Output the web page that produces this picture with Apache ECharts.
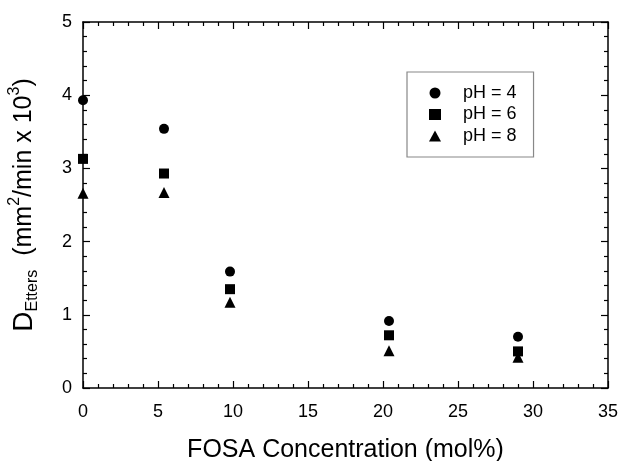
<!DOCTYPE html>
<html><head><meta charset="utf-8">
<script src="https://cdn.jsdelivr.net/npm/echarts@6/dist/echarts.min.js"></script>
<style>html,body{margin:0;padding:0;background:#fff}#c{width:621px;height:461px}</style>
</head><body><div id="c"></div>
<script>
const concentrations = [0, 5.4, 9.8, 20.4, 29.0];
const pH4 = [3.93, 3.54, 1.59, 0.915, 0.70];
const pH6 = [3.13, 2.93, 1.35, 0.72, 0.50];
const pH8 = [2.66, 2.67, 1.17, 0.51, 0.42];
const seriesNames = ['pH = 4', 'pH = 6', 'pH = 8'];
const xTitle = 'FOSA Concentration (mol%)';

const font = 'Liberation Sans, Arial, sans-serif';
const pair = (xs, ys) => xs.map((x, i) => [x, ys[i]]);
const tickStyle = { color: '#000', width: 1.2 };
const axisBase = {
  axisLine: { show: true, onZero: false, lineStyle: { color: '#000', width: 1.5 } },
  axisTick: { show: true, inside: true, length: 7, lineStyle: tickStyle },
  minorTick: { show: true, splitNumber: 5, length: 4, lineStyle: tickStyle },
  splitLine: { show: false },
};
const mk = { color: '#000', opacity: 1 };
const chart = echarts.init(document.getElementById('c'), null, { renderer: 'canvas' });
chart.setOption({
  animation: false,
  backgroundColor: '#fff',
  grid: { left: 83, right: 13, top: 22, bottom: 73, containLabel: false, outerBoundsMode: 'none' },
  legend: {
    orient: 'vertical',
    left: 407, top: 72,
    padding: [12, 17, 12, 22],
    itemGap: 3.5,
    itemWidth: 12, itemHeight: 11,
    borderColor: '#888', borderWidth: 1.2,
    textStyle: { fontFamily: font, fontSize: 18, color: '#000', padding: [0, 0, 0, 17] },
    data: seriesNames
  },
  xAxis: [
    Object.assign({}, axisBase, {
      type: 'value', min: 0, max: 35, interval: 5, position: 'bottom',
      axisLabel: { fontFamily: font, fontSize: 18, color: '#000', margin: 15 },
      name: xTitle, nameLocation: 'middle', nameGap: 50,
      nameTextStyle: { fontFamily: font, fontSize: 25, color: '#000' }
    }),
    Object.assign({}, axisBase, {
      type: 'value', min: 0, max: 35, interval: 5, position: 'top',
      axisLabel: { show: false }
    })
  ],
  yAxis: [
    Object.assign({}, axisBase, {
      type: 'value', min: 0, max: 5, interval: 1, position: 'left',
      axisLabel: { fontFamily: font, fontSize: 18, color: '#000', margin: 11 },
      name: '{d|D}{sub|Etters}  (mm{sup|2}/min x 10{sup|3})',
      nameLocation: 'middle', nameGap: 42, nameRotate: 90,
      nameTextStyle: {
        fontFamily: font, fontSize: 25, color: '#000', lineHeight: 34,
        rich: {
          d: { fontFamily: font, fontSize: 28, color: '#000', lineHeight: 34 },
          sub: { fontFamily: font, fontSize: 16, color: '#000', verticalAlign: 'bottom', lineHeight: 34 },
          sup: { fontFamily: font, fontSize: 16, color: '#000', verticalAlign: 'top', lineHeight: 34 }
        }
      }
    }),
    Object.assign({}, axisBase, {
      type: 'value', min: 0, max: 5, interval: 1, position: 'right',
      axisLabel: { show: false }
    })
  ],
  series: [
    { name: seriesNames[0], type: 'scatter', symbol: 'circle', symbolSize: 10, itemStyle: mk, data: pair(concentrations, pH4) },
    { name: seriesNames[1], type: 'scatter', symbol: 'rect', symbolSize: 10, itemStyle: mk, data: pair(concentrations, pH6) },
    { name: seriesNames[2], type: 'scatter', symbol: 'triangle', symbolSize: 11, itemStyle: mk, data: pair(concentrations, pH8) }
  ]
});
</script></body></html>
